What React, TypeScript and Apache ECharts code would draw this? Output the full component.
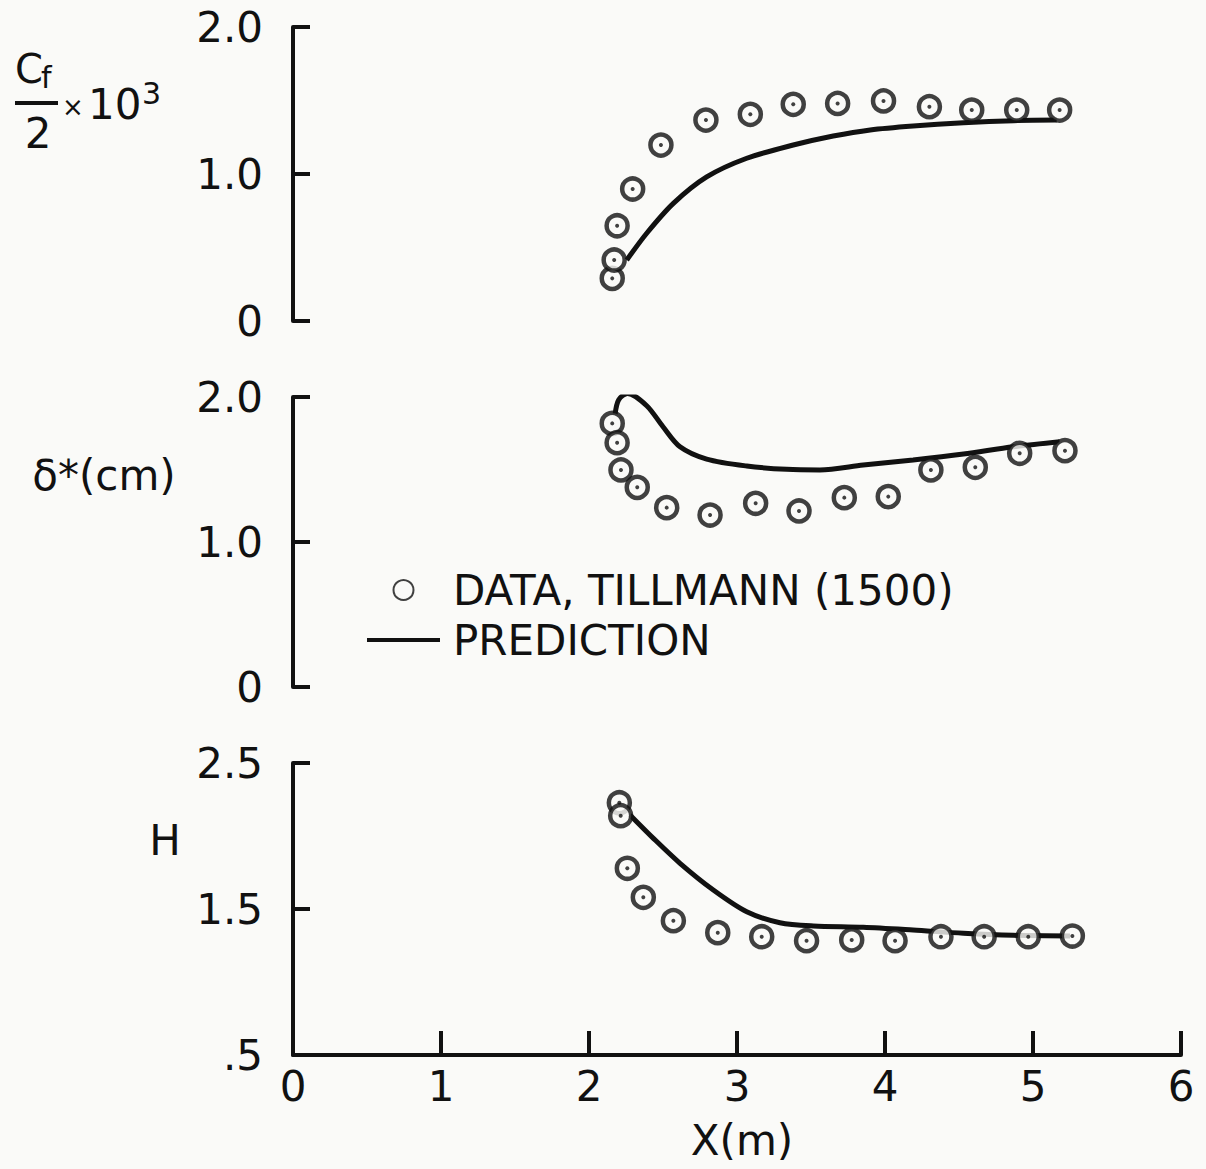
import React, { useEffect, useRef } from "react";
import * as echarts from "echarts";

// ---- data ----
const xTicks = [0, 1, 2, 3, 4, 5, 6];

const cfData = [
  [2.157, 0.29], [2.17, 0.415], [2.19, 0.648], [2.295, 0.898], [2.486, 1.197],
  [2.79, 1.367], [3.09, 1.406], [3.38, 1.474], [3.68, 1.48], [3.99, 1.497],
  [4.3, 1.458], [4.586, 1.435], [4.89, 1.435], [5.18, 1.435],
];
const cfPred = [
  [2.255, 0.415], [2.39, 0.597], [2.57, 0.8], [2.795, 0.98], [3.066, 1.107],
  [3.38, 1.197], [3.65, 1.258], [3.9, 1.3], [4.19, 1.327], [4.53, 1.349],
  [4.87, 1.363], [5.16, 1.367],
];

const deltaData = [
  [2.157, 1.818], [2.19, 1.685], [2.216, 1.497], [2.326, 1.377], [2.525, 1.237],
  [2.818, 1.186], [3.126, 1.267], [3.419, 1.214], [3.725, 1.306], [4.022, 1.313],
  [4.31, 1.497], [4.61, 1.515], [4.91, 1.612], [5.216, 1.63],
];
const deltaPred = [
  [2.176, 1.88], [2.2, 1.98], [2.26, 2.025], [2.39, 1.94], [2.5, 1.795],
  [2.615, 1.657], [2.795, 1.572], [3.066, 1.524], [3.336, 1.501], [3.56, 1.497],
  [3.853, 1.531], [4.19, 1.566], [4.53, 1.607], [4.867, 1.657], [5.18, 1.692],
];

const hData = [
  [2.205, 2.228], [2.214, 2.139], [2.259, 1.779], [2.367, 1.58], [2.57, 1.42],
  [2.87, 1.338], [3.167, 1.31], [3.47, 1.283], [3.775, 1.288], [4.068, 1.283],
  [4.378, 1.31], [4.67, 1.31], [4.968, 1.31], [5.266, 1.315],
];
const hPred = [
  [2.277, 2.144], [2.435, 1.984], [2.615, 1.813], [2.84, 1.63], [3.066, 1.481],
  [3.29, 1.406], [3.516, 1.384], [3.853, 1.375], [4.19, 1.356], [4.53, 1.334],
  [4.867, 1.32], [5.25, 1.315],
];

const DATA_NAME = "DATA, TILLMANN (1500)";
const PRED_NAME = "PREDICTION";

const INK = "#111111";
const BG = "#fafaf8";
const FONT = "DejaVu Sans";

export default function App() {
  const ref = useRef<HTMLDivElement>(null);

  useEffect(() => {
    if (!ref.current) return;
    const chart = echarts.init(ref.current, undefined, { renderer: "svg" });

    const axisLine = { show: true, lineStyle: { color: INK, width: 4 } };
    const axisTick = { show: true, inside: true, length: 17, lineStyle: { color: INK, width: 4 } };
    const yLabel = (fmt: (v: number) => string) => ({
      fontSize: 42,
      fontFamily: FONT,
      color: INK,
      margin: 30,
      formatter: fmt,
    });
    const fmt01 = (v: number) => (v === 0 ? "0" : v.toFixed(1));
    const fmtH = (v: number) => (v === 0.5 ? ".5" : v.toFixed(1));

    const xAxisBase = {
      type: "value",
      min: xTicks[0],
      max: xTicks[xTicks.length - 1],
      interval: 1,
      splitLine: { show: false },
    };

    const scatterSeries = (data: number[][], idx: number) => ({
      name: DATA_NAME,
      type: "scatter",
      xAxisIndex: idx,
      yAxisIndex: idx,
      data,
      symbol: "circle",
      symbolSize: 21,
      z: 3,
      itemStyle: { color: BG, borderColor: INK, borderWidth: 4.5 },
    });
    const dotSeries = (data: number[][], idx: number) => ({
      name: "dot",
      type: "scatter",
      xAxisIndex: idx,
      yAxisIndex: idx,
      data,
      symbol: "circle",
      symbolSize: 4,
      z: 4,
      itemStyle: { color: INK },
    });
    const lineSeries = (data: number[][], idx: number) => ({
      name: PRED_NAME,
      type: "line",
      xAxisIndex: idx,
      yAxisIndex: idx,
      data,
      smooth: 0.3,
      showSymbol: false,
      symbol: "none",
      z: 2,
      lineStyle: { color: INK, width: 5 },
      itemStyle: { color: INK },
    });

    const txt = (text: string, x: number, y: number, size: number, align = "center") => ({
      type: "text",
      x,
      y,
      style: {
        text,
        fontSize: size,
        fontFamily: FONT,
        fill: INK,
        align,
        verticalAlign: "middle",
      },
    });

    chart.setOption({
      animation: false,
      backgroundColor: BG,
      grid: [
        { left: 293, top: 27, width: 888, height: 294 },
        { left: 293, top: 397, width: 888, height: 290 },
        { left: 293, top: 763, width: 888, height: 292 },
      ],
      xAxis: [
        { ...xAxisBase, gridIndex: 0, show: false },
        { ...xAxisBase, gridIndex: 1, show: false },
        {
          ...xAxisBase,
          gridIndex: 2,
          axisLine,
          axisTick: { ...axisTick, length: 24 },
          axisLabel: { fontSize: 42, fontFamily: FONT, color: INK, margin: 10 },
        },
      ],
      yAxis: [
        {
          type: "value", gridIndex: 0, min: 0, max: 2, interval: 1,
          axisLine, axisTick, splitLine: { show: false }, axisLabel: yLabel(fmt01),
        },
        {
          type: "value", gridIndex: 1, min: 0, max: 2, interval: 1,
          axisLine, axisTick, splitLine: { show: false }, axisLabel: yLabel(fmt01),
        },
        {
          type: "value", gridIndex: 2, min: 0.5, max: 2.5, interval: 1,
          axisLine, axisTick, splitLine: { show: false }, axisLabel: yLabel(fmtH),
        },
      ],
      legend: {
        data: [
          { name: DATA_NAME, icon: "circle" },
          { name: PRED_NAME, icon: "path://M0,0L73,0L73,4L0,4Z" },
        ],
        orient: "vertical",
        left: 362,
        top: 564,
        itemWidth: 73,
        itemHeight: 20,
        itemGap: 8,
        symbolKeepAspect: true,
        selectedMode: false,
        textStyle: {
          fontSize: 42,
          fontFamily: FONT,
          color: INK,
          lineHeight: 42,
          padding: [0, 0, 0, 8],
        },
      },
      series: [
        lineSeries(cfPred, 0),
        scatterSeries(cfData, 0),
        dotSeries(cfData, 0),
        lineSeries(deltaPred, 1),
        scatterSeries(deltaData, 1),
        dotSeries(deltaData, 1),
        lineSeries(hPred, 2),
        scatterSeries(hData, 2),
        dotSeries(hData, 2),
      ],
      graphic: [
        txt("C", 15, 69, 40, "left"),
        txt("f", 41, 77, 30, "left"),
        { type: "rect", shape: { x: 15, y: 101, width: 43, height: 4 }, style: { fill: INK } },
        txt("2", 38, 133, 42),
        txt("×", 62, 107, 26, "left"),
        txt("10", 88, 104, 42, "left"),
        txt("3", 142, 93, 30, "left"),
        txt("δ*(cm)", 104, 475, 42),
        txt("H", 165, 840, 42),
        txt("X(m)", 742, 1140, 42),
      ],
    });

    return () => chart.dispose();
  }, []);

  return (
    <div
      ref={ref}
      style={{ position: "absolute", left: 0, top: 0, width: 1206, height: 1169 }}
    />
  );
}
